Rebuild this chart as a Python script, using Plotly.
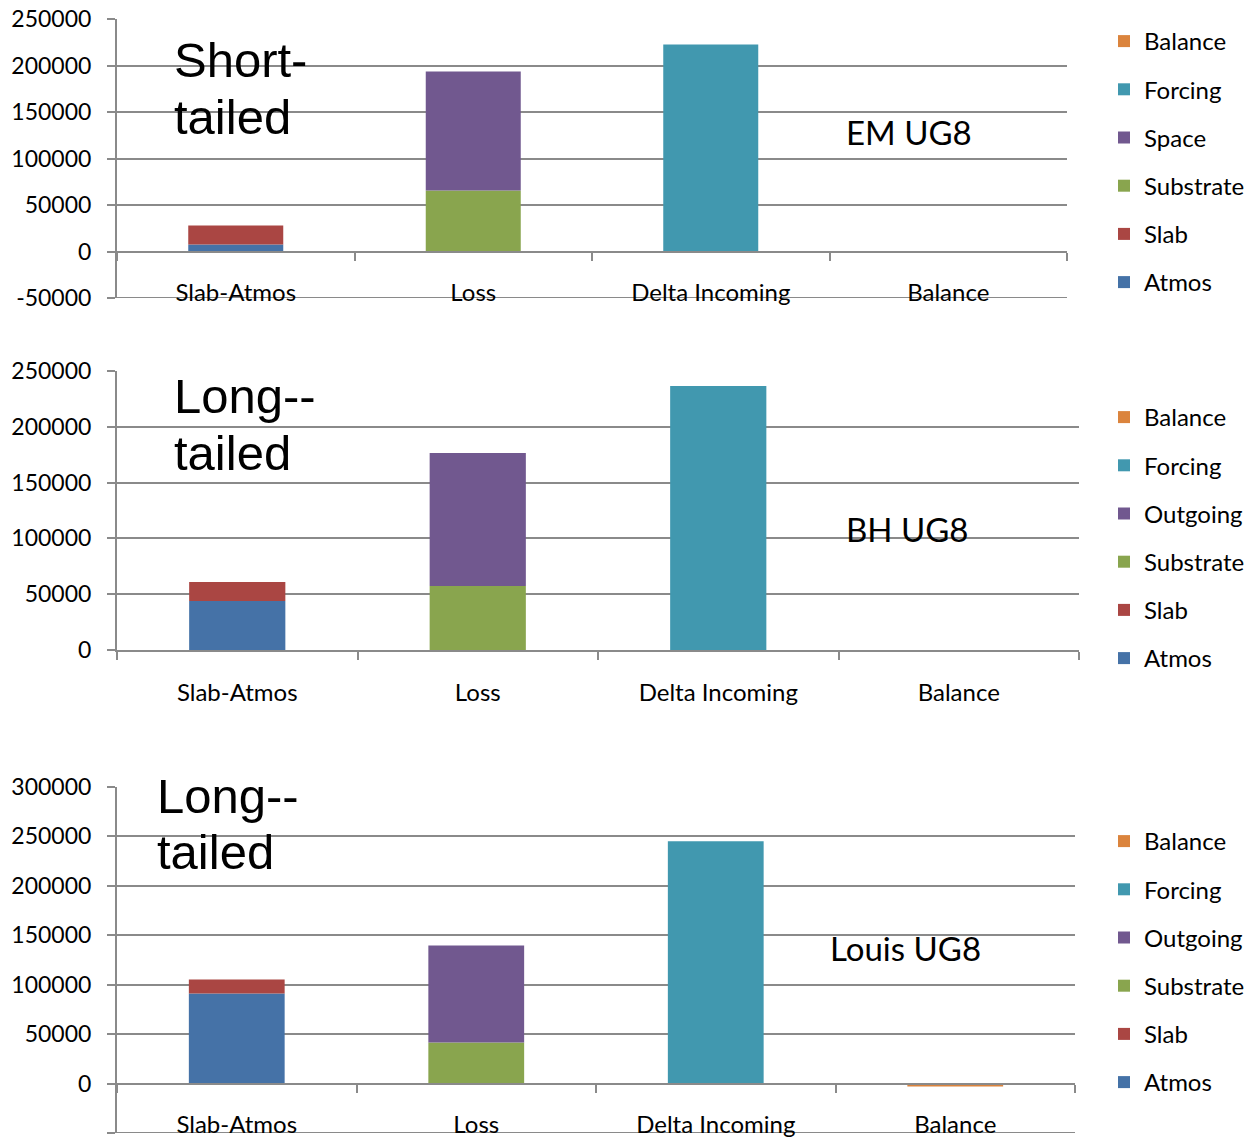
import plotly.graph_objects as go

W, H = 1251, 1144

categories = ["Slab-Atmos", "Loss", "Delta Incoming", "Balance"]

# Chart 1: EM UG8 (Short-tailed)
em_atmos = [7500, 0, 0, 0]
em_slab = [20500, 0, 0, 0]
em_substrate = [0, 65600, 0, 0]
em_space = [0, 128000, 0, 0]
em_forcing = [0, 0, 222600, 0]
em_balance = [0, 0, 0, 0]

# Chart 2: BH UG8 (Long-tailed)
bh_atmos = [43900, 0, 0, 0]
bh_slab = [17000, 0, 0, 0]
bh_substrate = [0, 57300, 0, 0]
bh_outgoing = [0, 119200, 0, 0]
bh_forcing = [0, 0, 236500, 0]
bh_balance = [0, 0, 0, 0]

# Chart 3: Louis UG8 (Long-tailed)
lo_atmos = [91000, 0, 0, 0]
lo_slab = [14300, 0, 0, 0]
lo_substrate = [0, 41500, 0, 0]
lo_outgoing = [0, 98200, 0, 0]
lo_forcing = [0, 0, 245000, 0]
lo_balance = [0, 0, 0, -3000]

ytick_vals_1 = [-50000, 0, 50000, 100000, 150000, 200000, 250000]
ytick_text_1 = ["-50000", "0", "50000", "100000", "150000", "200000", "250000"]
ytick_vals_2 = [0, 50000, 100000, 150000, 200000, 250000]
ytick_text_2 = ["0", "50000", "100000", "150000", "200000", "250000"]
ytick_vals_3 = [-50000, 0, 50000, 100000, 150000, 200000, 250000, 300000]
ytick_text_3 = ["-50000", "0", "50000", "100000", "150000", "200000", "250000", "300000"]

colors = {
    "Atmos": "#4572A7",
    "Slab": "#AA4643",
    "Substrate": "#89A54E",
    "Space": "#71588F",
    "Outgoing": "#71588F",
    "Forcing": "#4198AF",
    "Balance": "#DB843D",
}

charts = [
    dict(series=[("Atmos", em_atmos), ("Slab", em_slab), ("Substrate", em_substrate),
                 ("Space", em_space), ("Forcing", em_forcing), ("Balance", em_balance)],
         xpx=(117, 1067), ypx=(19, 298), yrange=(-50000, 250000),
         tv=ytick_vals_1, tt=ytick_text_1, legend="legend",
         leg_top=19, title=("Short-", "tailed"), title_x=172, title_y=(60, 117),
         label="EM UG8", label_x=844, label_y=132),
    dict(series=[("Atmos", bh_atmos), ("Slab", bh_slab), ("Substrate", bh_substrate),
                 ("Outgoing", bh_outgoing), ("Forcing", bh_forcing), ("Balance", bh_balance)],
         xpx=(117, 1079), ypx=(371, 650), yrange=(0, 250000),
         tv=ytick_vals_2, tt=ytick_text_2, legend="legend2",
         leg_top=395, title=("Long--", "tailed"), title_x=172, title_y=(396, 453),
         label="BH UG8", label_x=844, label_y=529),
    dict(series=[("Atmos", lo_atmos), ("Slab", lo_slab), ("Substrate", lo_substrate),
                 ("Outgoing", lo_outgoing), ("Forcing", lo_forcing), ("Balance", lo_balance)],
         xpx=(117, 1075), ypx=(787, 1133), yrange=(-50000, 300000),
         tv=ytick_vals_3, tt=ytick_text_3, legend="legend3",
         leg_top=819, title=("Long--", "tailed"), title_x=155, title_y=(796, 852),
         label="Louis UG8", label_x=828, label_y=948),
]

GRID = "#8a8a8a"
FONT = "Lato"
fig = go.Figure()
layout = dict(
    width=W, height=H, margin=dict(l=0, r=0, t=0, b=0, autoexpand=False),
    paper_bgcolor="white", plot_bgcolor="white",
    barmode="relative", bargap=0.6,
    font=dict(family=FONT, size=24, color="black"),
    annotations=[], shapes=[],
)

for i, c in enumerate(charts, start=1):
    xs = "" if i == 1 else str(i)
    xname, yname = "x" + xs, "y" + xs
    n = len(c["series"])
    for gi, (name, vals) in enumerate(c["series"]):
        fig.add_trace(go.Bar(
            x=categories, y=vals, name=name, marker=dict(color=colors[name], line=dict(width=0)),
            xaxis=xname, yaxis=yname, legend=c["legend"], legendgroup=f"{i}-{gi}",
            legendrank=n - gi,
        ))
    xd = [c["xpx"][0] / W, c["xpx"][1] / W]
    yd = [1 - c["ypx"][1] / H, 1 - c["ypx"][0] / H]
    lo, hi = c["yrange"]
    zero_pos = yd[0] + (yd[1] - yd[0]) * (0 - lo) / (hi - lo)
    xaxis = dict(
        domain=xd, showgrid=False, showline=True, linecolor=GRID, linewidth=2,
        ticks="outside", ticklen=8, tickwidth=2, tickcolor=GRID, tickson="boundaries",
        tickfont=dict(family=FONT, size=24, color="black"), ticklabelstandoff=20,
        categoryorder="array", categoryarray=categories, fixedrange=True,
    )
    if lo < 0:
        xaxis.update(anchor="free", position=zero_pos)
        # bottom gridline at the lower end of the value axis
        layout["shapes"].append(dict(
            type="line", xref=xname + " domain", yref=yname, x0=0, x1=1, y0=lo, y1=lo,
            line=dict(color=GRID, width=2), layer="below",
        ))
    else:
        xaxis.update(anchor=yname)
    yaxis = dict(
        domain=yd, range=[lo, hi], anchor=xname, showgrid=True, gridcolor=GRID, gridwidth=2,
        zeroline=False, showline=True, linecolor=GRID, linewidth=2,
        ticks="outside", ticklen=8, tickwidth=2, tickcolor=GRID,
        tickvals=c["tv"], ticktext=c["tt"], ticklabelstandoff=11,
        tickfont=dict(family=FONT, size=23, color="black"),
    )
    layout["xaxis" + xs] = xaxis
    layout["yaxis" + xs] = yaxis
    layout[c["legend"]] = dict(
        x=1104 / W, xanchor="left", y=1 - c["leg_top"] / H, yanchor="top",
        traceorder="grouped", tracegroupgap=14,
        font=dict(family=FONT, size=24, color="black"), bgcolor="rgba(0,0,0,0)",
    )
    for line, ty in zip(c["title"], c["title_y"]):
        layout["annotations"].append(dict(
            text=line, xref="paper", yref="paper", x=c["title_x"] / W, y=1 - ty / H,
            xanchor="left", yanchor="middle", showarrow=False,
            font=dict(family="Liberation Sans", size=49, color="black"),
        ))
    layout["annotations"].append(dict(
        text=c["label"], xref="paper", yref="paper", x=c["label_x"] / W, y=1 - c["label_y"] / H,
        xanchor="left", yanchor="middle", showarrow=False,
        font=dict(family=FONT, size=33, color="black"),
    ))

fig.update_layout(**layout)
fig.write_html("out.html")
